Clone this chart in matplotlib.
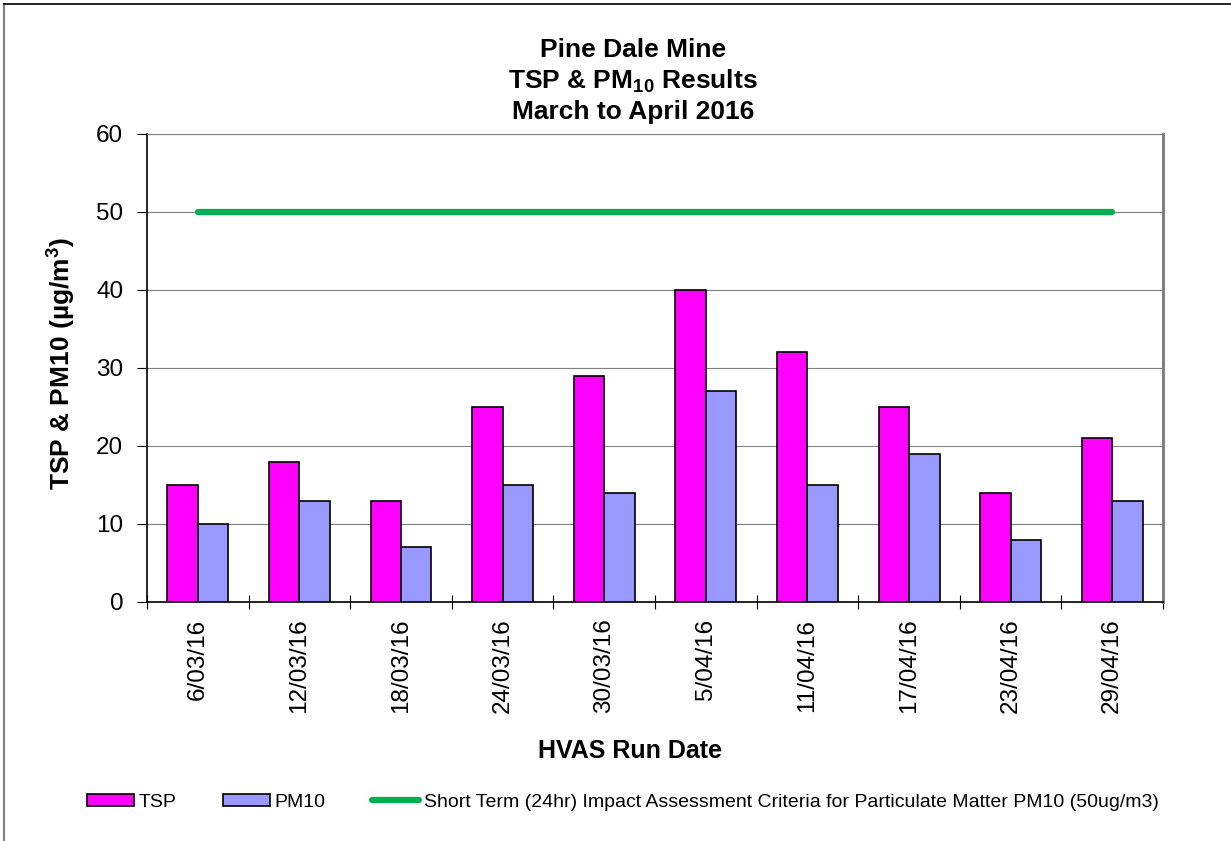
import numpy as np
import matplotlib
matplotlib.use("Agg")
from matplotlib import pyplot as plt
from matplotlib.lines import Line2D

plt.rcParams['font.family'] = ['Liberation Sans', 'DejaVu Sans']
plt.rcParams['mathtext.fontset'] = 'custom'
plt.rcParams['mathtext.rm'] = 'Liberation Sans'
plt.rcParams['mathtext.bf'] = 'Liberation Sans:bold'

dates = ["6/03/16", "12/03/16", "18/03/16", "24/03/16", "30/03/16",
         "5/04/16", "11/04/16", "17/04/16", "23/04/16", "29/04/16"]
tsp = [15, 18, 13, 25, 29, 40, 32, 25, 14, 21]
pm10 = [10, 13, 7, 15, 14, 27, 15, 19, 8, 13]
criteria = [50] * len(dates)

fig = plt.figure(figsize=(12.31, 8.41), dpi=100)
ax = fig.add_axes([0.1194, 0.2842, 0.8254, 0.5565])

x = np.arange(len(dates))
w = 0.3
b1 = ax.bar(x - w / 2, tsp, w, color="#FF00FF", edgecolor="black", linewidth=1.2, label="TSP", zorder=3)
b2 = ax.bar(x + w / 2, pm10, w, color="#9999FF", edgecolor="black", linewidth=1.2, label="PM10", zorder=3)
ln, = ax.plot(x, criteria, color="#00B050", linewidth=4.5, solid_capstyle="round", zorder=4,
              label="Short Term (24hr) Impact Assessment Criteria for Particulate Matter PM10 (50ug/m3)")

ax.set_xlim(-0.5, len(dates) - 0.5)
ax.set_ylim(0, 60)
ax.set_yticks(range(0, 61, 10))
ax.yaxis.grid(True, color="#808080", linewidth=0.8, zorder=0)
ax.tick_params(axis="y", labelsize=17.5, length=7, width=0.8, direction="out", pad=10)

ax.set_xticks(x)
ax.set_xticklabels(dates, rotation=90, fontsize=17.5)
ax.set_xticks(np.arange(-0.5, len(dates)), minor=True)
ax.tick_params(axis="x", which="major", length=0, pad=12)
ax.tick_params(axis="x", which="minor", length=10, width=0.8, direction="inout")

ax.spines["left"].set_color("black")
ax.spines["bottom"].set_color("black")
ax.spines["left"].set_linewidth(1.2)
ax.spines["bottom"].set_linewidth(1.2)
ax.spines["top"].set_color("#808080")
ax.spines["right"].set_color("#808080")
ax.spines["right"].set_linewidth(2.2)

ax.set_ylabel(r"TSP & PM10 (µg/m$^{\mathbf{3}}$)", fontsize=19, fontweight="bold")
ax.yaxis.set_label_coords(-0.069, 0.51)
ax.set_xlabel("HVAS Run Date", fontsize=18, fontweight="bold")
ax.xaxis.set_label_coords(0.475, -0.293)

tx = 0.514
fig.text(tx, 0.932, "Pine Dale Mine", ha="center", va="baseline", fontsize=19, fontweight="bold")
fig.text(tx, 0.895, r"TSP & PM$_{\mathbf{10}}$ Results", ha="center", va="baseline", fontsize=19, fontweight="bold")
fig.text(tx, 0.858, "March to April 2016", ha="center", va="baseline", fontsize=19, fontweight="bold")

ax.legend(handles=[b1, b2, ln], loc="center", bbox_to_anchor=(0.506, 0.046), bbox_transform=fig.transFigure,
          ncol=3, frameon=False, fontsize=14, handlelength=2.4, handleheight=0.6, handletextpad=0.25,
          columnspacing=2.4)

fig.add_artist(Line2D([0.003, 0.003], [0, 0.995], transform=fig.transFigure, color="#808080", linewidth=1.5))
fig.add_artist(Line2D([0.003, 1.0], [0.995, 0.995], transform=fig.transFigure, color="black", linewidth=1.2))

fig.savefig("out.png", dpi=100)
